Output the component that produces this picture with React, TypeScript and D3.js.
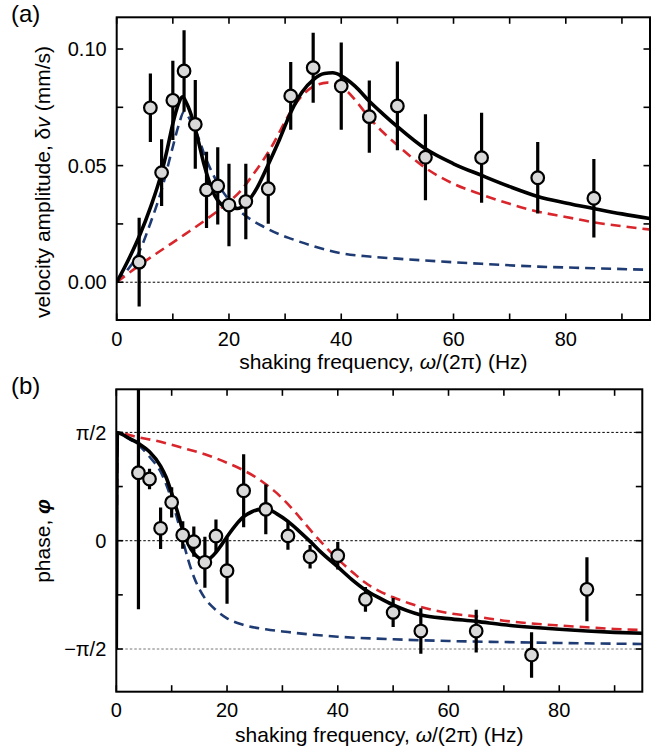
import React from "react";
import * as d3 from "d3";

// ---------- data ----------
const freqA = [4, 6, 8, 10, 12, 14, 16, 18, 20, 23, 27, 31, 35, 40, 45, 50, 55, 65, 75, 85];
const ampA = [0.0086, 0.0748, 0.047, 0.078, 0.0906, 0.0677, 0.0396, 0.0413, 0.0331, 0.0346, 0.0401, 0.0799, 0.092, 0.0841, 0.071, 0.0756, 0.0536, 0.0534, 0.0448, 0.036];
const ampErrA = [0.019, 0.0147, 0.0143, 0.017, 0.0175, 0.019, 0.0163, 0.0166, 0.0177, 0.0162, 0.015, 0.0145, 0.015, 0.0187, 0.0155, 0.019, 0.0184, 0.0193, 0.0153, 0.0168];

const freqB = [4, 6, 8, 10, 12, 14, 16, 18, 20, 23, 27, 31, 35, 40, 45, 50, 55, 65, 75, 85];
const phaseB = [0.986, 0.895, 0.18, 0.557, 0.083, -0.014, -0.313, 0.068, -0.435, 0.725, 0.455, 0.07, -0.232, -0.217, -0.85, -1.04, -1.31, -1.31, -1.657, -0.705];
const phaseErrB = [1.98, 0.15, 0.3, 0.22, 0.2, 0.22, 0.37, 0.24, 0.48, 0.53, 0.36, 0.2, 0.17, 0.2, 0.18, 0.21, 0.33, 0.31, 0.33, 0.465];

// fitted curves: [frequency, value]
const fitTotalA: [number, number][] = [[0,0],[2,0.0092],[4,0.0196],[6,0.032],[8,0.047],[9,0.057],[10,0.068],[11,0.0765],[11.7,0.0795],[12.5,0.0765],[13.5,0.07],[14.5,0.061],[15.5,0.051],[16.5,0.043],[17.5,0.037],[18.5,0.0337],[20,0.0319],[21.5,0.0316],[23,0.0336],[25,0.0405],[27,0.0505],[29,0.0612],[31,0.0728],[33,0.0815],[35,0.0868],[37,0.0895],[38.5,0.0898],[40,0.0885],[42.5,0.084],[45,0.0776],[47.5,0.072],[50,0.0667],[55,0.0572],[60,0.0508],[65,0.0458],[70,0.041],[75,0.0368],[80,0.034],[85,0.0316],[90,0.0293],[95,0.0273]];
const fitHighA: [number, number][] = [[0,0],[4,0.0072],[8,0.0138],[12,0.0203],[16,0.027],[20,0.0345],[22,0.039],[24,0.0452],[26,0.052],[28,0.0598],[30,0.069],[32,0.077],[34,0.0822],[36,0.0849],[37.5,0.0856],[39,0.0848],[41,0.082],[43,0.0766],[45,0.0705],[47.5,0.0642],[50,0.0588],[55,0.049],[60,0.0422],[65,0.0376],[70,0.0336],[75,0.0303],[80,0.028],[85,0.0257],[90,0.024],[95,0.0226]];
const fitLowA: [number, number][] = [[0,0],[2,0.0055],[4,0.013],[6,0.0253],[8,0.0396],[10,0.0581],[11,0.067],[12,0.0731],[13,0.07],[14,0.0653],[16,0.0524],[18,0.0424],[20,0.0353],[22,0.0303],[24,0.0267],[26,0.024],[29,0.0205],[31,0.0187],[35,0.0155],[40,0.0124],[45,0.011],[50,0.0101],[55,0.0093],[65,0.0079],[75,0.0067],[85,0.006],[95,0.0053]];

const fitTotalB: [number, number][] = [[0,-1.5708],[0.2,1.566],[2,1.5],[4,1.412],[6,1.29],[8,1.083],[9,0.92],[10,0.687],[11,0.43],[12,0.155],[13,-0.05],[14,-0.18],[15,-0.255],[16,-0.28],[17,-0.25],[18,-0.17],[19,-0.06],[20,0.058],[21.5,0.22],[23,0.348],[24.5,0.42],[26,0.455],[27.5,0.45],[29,0.39],[31,0.28],[33,0.14],[35,-0.01],[37,-0.17],[40,-0.38],[42.5,-0.56],[45,-0.715],[47.5,-0.83],[50,-0.932],[55,-1.077],[60,-1.13],[65,-1.17],[70,-1.22],[75,-1.256],[80,-1.285],[85,-1.31],[90,-1.33],[95,-1.343]];
const fitHighB: [number, number][] = [[0,-1.5708],[0.2,1.566],[4,1.5],[8,1.435],[12,1.345],[16,1.255],[20,1.13],[23,1.02],[25,0.93],[27,0.82],[29,0.69],[31,0.53],[33,0.35],[35,0.16],[37,-0.02],[39,-0.19],[41,-0.34],[43,-0.48],[45,-0.61],[47.5,-0.73],[50,-0.82],[55,-0.96],[60,-1.05],[65,-1.1],[70,-1.16],[75,-1.2],[80,-1.23],[85,-1.256],[90,-1.28],[95,-1.295]];
const fitLowB: [number, number][] = [[0,-1.5708],[0.2,1.566],[2,1.49],[4,1.388],[6,1.218],[8,1.0],[9,0.82],[10,0.59],[11,0.32],[12,0.01],[13,-0.28],[14,-0.522],[15,-0.7],[16,-0.835],[18,-1.005],[20,-1.125],[23,-1.222],[27,-1.285],[31,-1.325],[35,-1.36],[40,-1.392],[50,-1.43],[60,-1.455],[70,-1.47],[80,-1.483],[95,-1.498]];

const xTicks = [0, 20, 40, 60, 80];
const xMinorTicks = [10, 30, 50, 70, 90];
const yTicksA = [0, 0.05, 0.1];
const yTickLabelsA = ["0.00", "0.05", "0.10"];
const yMinorTicksA = [0.025, 0.075];
const yTicksB = [-Math.PI / 2, 0, Math.PI / 2];
const yTickLabelsB = ["\u2212\u03c0/2", "0", "\u03c0/2"];
const yMinorTicksB = [-Math.PI / 4, Math.PI / 4];
const refLinesA = [0];
const refLinesB = [Math.PI / 2, 0, -Math.PI / 2];

const FONT = "'Liberation Sans', Arial, Helvetica, sans-serif";
const RED = "#d8262c";
const BLUE = "#1f3b73";

type PanelProps = {
  id: string;
  left: number; right: number; top: number; bottom: number;
  yDomain: [number, number];
  yTicks: number[]; yTickLabels: string[]; yMinor: number[];
  refLines: number[]; refColors: string[];
  fx: number[]; fy: number[]; fe: number[];
  total: [number, number][]; high: [number, number][]; low: [number, number][];
  label: string;
  yLabel: React.ReactNode; yLabelY: number;
  xLabelGap: number;
};

function Panel(p: PanelProps) {
  const x = d3.scaleLinear().domain([0, 95]).range([p.left, p.right]);
  const y = d3.scaleLinear().domain(p.yDomain).range([p.bottom, p.top]);
  const line = d3.line<[number, number]>().x(d => x(d[0])).y(d => y(d[1])).curve(d3.curveMonotoneX);
  const tl = 6.5;
  const clipId = "clip-" + p.id;
  return (
    <g>
      <defs>
        <clipPath id={clipId}>
          <rect x={p.left} y={p.top} width={p.right - p.left} height={p.bottom - p.top} />
        </clipPath>
      </defs>
      {p.refLines.map((v, i) => (
        <line key={"r" + i} x1={p.left} x2={p.right} y1={y(v)} y2={y(v)} stroke={p.refColors[i]} strokeWidth={1} strokeDasharray="2.5,2" />
      ))}
      <g clipPath={`url(#${clipId})`}>
        <path d={line(p.low) || ""} fill="none" stroke={BLUE} strokeWidth={2.6} strokeDasharray="10,6" />
        <path d={line(p.high) || ""} fill="none" stroke={RED} strokeWidth={2.6} strokeDasharray="10,6" />
        <path d={line(p.total) || ""} fill="none" stroke="#000" strokeWidth={3.6} />
        {p.fx.map((f, i) => (
          <line key={"e" + i} x1={x(f)} x2={x(f)} y1={y(p.fy[i] - p.fe[i])} y2={y(p.fy[i] + p.fe[i])} stroke="#000" strokeWidth={3.2} />
        ))}
        {p.fx.map((f, i) => (
          <circle key={"c" + i} cx={x(f)} cy={y(p.fy[i])} r={6.3} fill="#d9d9d9" stroke="#000" strokeWidth={2.2} />
        ))}
      </g>
      {[...xTicks, ...xMinorTicks].map((t, i) => (
        <g key={"xt" + i}>
          <line x1={x(t)} x2={x(t)} y1={p.bottom} y2={p.bottom - tl} stroke="#000" strokeWidth={1.6} />
          <line x1={x(t)} x2={x(t)} y1={p.top} y2={p.top + tl} stroke="#000" strokeWidth={1.6} />
        </g>
      ))}
      {[...p.yTicks, ...p.yMinor].map((t, i) => (
        <g key={"yt" + i}>
          <line x1={p.left} x2={p.left + tl} y1={y(t)} y2={y(t)} stroke="#000" strokeWidth={1.6} />
          <line x1={p.right} x2={p.right - tl} y1={y(t)} y2={y(t)} stroke="#000" strokeWidth={1.6} />
        </g>
      ))}
      <rect x={p.left} y={p.top} width={p.right - p.left} height={p.bottom - p.top} fill="none" stroke="#000" strokeWidth={2} />
      {xTicks.map((t, i) => (
        <text key={"xl" + i} x={x(t)} y={p.bottom + 25.5} textAnchor="middle" fontFamily={FONT} fontSize={20}>{t}</text>
      ))}
      {p.yTicks.map((t, i) => (
        <text key={"yl" + i} x={p.left - 10} y={y(t) + 7.2} textAnchor="end" fontFamily={FONT} fontSize={20}>{p.yTickLabels[i]}</text>
      ))}
      <text x={(p.left + p.right) / 2} y={p.bottom + p.xLabelGap} textAnchor="middle" fontFamily={FONT} fontSize={21}>
        shaking frequency, <tspan fontStyle="italic">ω</tspan>/(2π) (Hz)
      </text>
      <text x={0} y={0} transform={`translate(50,${p.yLabelY}) rotate(-90)`} textAnchor="middle" fontFamily={FONT} fontSize={21}>
        {p.yLabel}
      </text>
      <text x={11} y={p.top + 5} fontFamily={FONT} fontSize={24}>{p.label}</text>
    </g>
  );
}

export default function App() {
  return (
    <svg width={670} height={756} style={{ position: "absolute", left: 0, top: 0, background: "#fff" }}>
      <Panel
        id="a" left={116.7} right={650} top={17.3} bottom={320}
        yDomain={[-0.0162, 0.1136]}
        yTicks={yTicksA} yTickLabels={yTickLabelsA} yMinor={yMinorTicksA}
        refLines={refLinesA} refColors={["#000"]}
        fx={freqA} fy={ampA} fe={ampErrA}
        total={fitTotalA} high={fitHighA} low={fitLowA}
        label="(a)"
        yLabel={<>velocity amplitude, δ<tspan fontStyle="italic">v</tspan> (mm/s)</>}
        yLabelY={182}
        xLabelGap={48.5}
      />
      <Panel
        id="b" left={116.3} right={642.3} top={389.3} bottom={691.7}
        yDomain={[-2.19, 2.196]}
        yTicks={yTicksB} yTickLabels={yTickLabelsB} yMinor={yMinorTicksB}
        refLines={refLinesB} refColors={["#000", "#000", "#777"]}
        fx={freqB} fy={phaseB} fe={phaseErrB}
        total={fitTotalB} high={fitHighB} low={fitLowB}
        label="(b)"
        yLabel={<>phase, <tspan fontStyle="italic" fontWeight="bold">φ</tspan></>}
        yLabelY={541}
        xLabelGap={50}
      />
    </svg>
  );
}
